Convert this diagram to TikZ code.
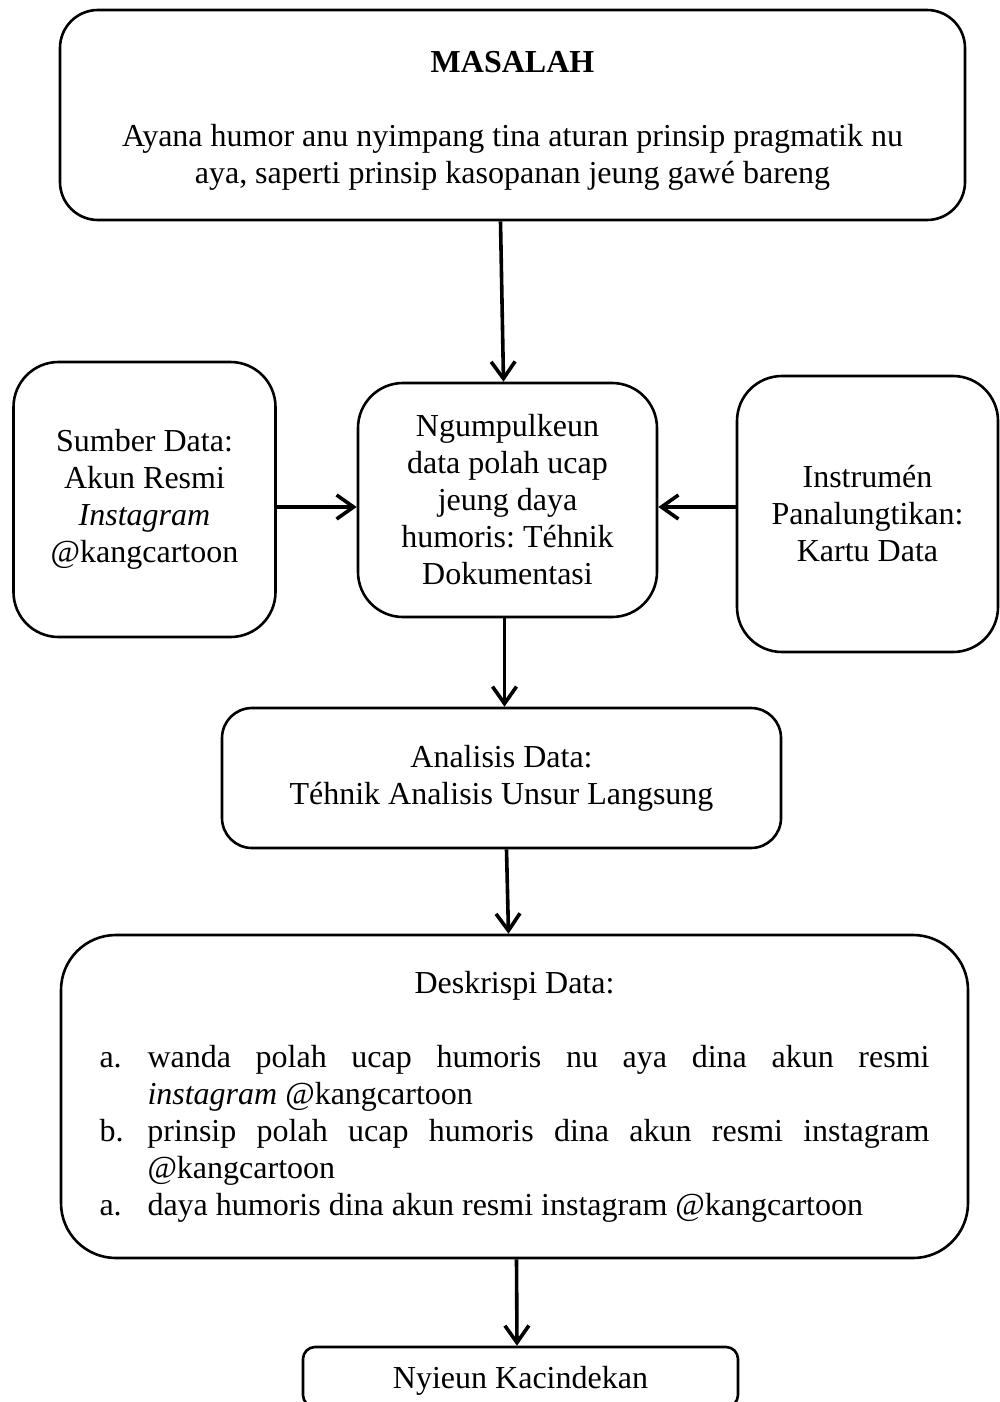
\documentclass[tikz,border=0pt]{standalone}
\usepackage{fontspec}
\setmainfont{Liberation Serif}
\usetikzlibrary{arrows.meta}
\frenchspacing
\tikzset{
  box/.style={draw, line width=2.6pt, align=center, inner sep=0pt,
    font=\fontsize{32}{37}\selectfont\frenchspacing},
  txt/.style={align=center, inner sep=0pt, font=\fontsize{32}{37}\selectfont\frenchspacing},
  arr/.style={line width=3.6pt, -{Straight Barb[length=17pt,width=24pt]}},
}
\begin{document}
\begin{tikzpicture}[x=1pt,y=-1pt]
\useasboundingbox (0,0) rectangle (1000,1402);
\clip (0,0) rectangle (1000,1402);
\fill[white] (0,0) rectangle (1000,1402);

\node[box, rounded corners=38pt, minimum width=905pt, minimum height=210pt] (masalah) at (512.5,115) {};
\node[txt] (masalahtext) at (512.5,121)
  {\textbf{MASALAH}\\[37pt]Ayana humor anu nyimpang tina aturan prinsip pragmatik nu\\aya, saperti prinsip kasopanan jeung gaw\'e bareng};

\node[box, rounded corners=45pt, minimum width=299pt, minimum height=234pt] (collect) at (507.5,500)
  {Ngumpulkeun\\data polah ucap\\jeung daya\\humoris: T\'ehnik\\Dokumentasi};

\node[box, rounded corners=45pt, minimum width=262pt, minimum height=275pt] (src) at (144.5,499.5)
  {Sumber Data:\\Akun Resmi\\\textit{Instagram}\\@kangcartoon};

\node[box, rounded corners=45pt, minimum width=261pt, minimum height=276pt] (instr) at (867.5,514)
  {Instrum\'en\\Panalungtikan:\\Kartu Data};

\node[box, rounded corners=30pt, minimum width=559pt, minimum height=140pt] (analysis) at (501.5,778)
  {Analisis Data:\\T\'ehnik Analisis Unsur Langsung};

\node[box, rounded corners=55pt, minimum width=907pt, minimum height=323pt] (desc) at (514.5,1096.5)
  {\parbox{830pt}{\fontsize{32}{37}\selectfont\frenchspacing
   {\centering Deskrispi Data:\par}
   \vspace{37pt}
   \noindent\makebox[48pt][l]{a.}\makebox[782pt][s]{wanda polah ucap humoris nu aya dina akun resmi}\par
   \noindent\hspace*{48pt}\textit{instagram} @kangcartoon\par
   \noindent\makebox[48pt][l]{b.}\makebox[782pt][s]{prinsip polah ucap humoris dina akun resmi instagram}\par
   \noindent\hspace*{48pt}@kangcartoon\par
   \noindent\makebox[48pt][l]{a.}daya humoris dina akun resmi instagram @kangcartoon\par}};

\node[box, rounded corners=12pt, minimum width=435pt, minimum height=60pt] (final) at (520.5,1377) {};
\node[txt, anchor=base] (finaltext) at (520.5,1388) {Nyieun Kacindekan};

\draw[arr] ([xshift=-12pt]masalah.south) -- ([xshift=-4pt]collect.north);
\draw[arr] ([yshift=-7.5pt]src.east) -- ([yshift=-7pt]collect.west);
\draw[arr] ([yshift=7pt]instr.west) -- ([yshift=-7pt]collect.east);
\draw[arr] ([xshift=-3pt]collect.south) -- ([xshift=3pt]analysis.north);
\draw[arr] ([xshift=5pt]analysis.south) -- ([xshift=-6pt]desc.north);
\draw[arr] ([xshift=2pt]desc.south) -- ([xshift=-3.5pt]final.north);
\end{tikzpicture}
\end{document}
